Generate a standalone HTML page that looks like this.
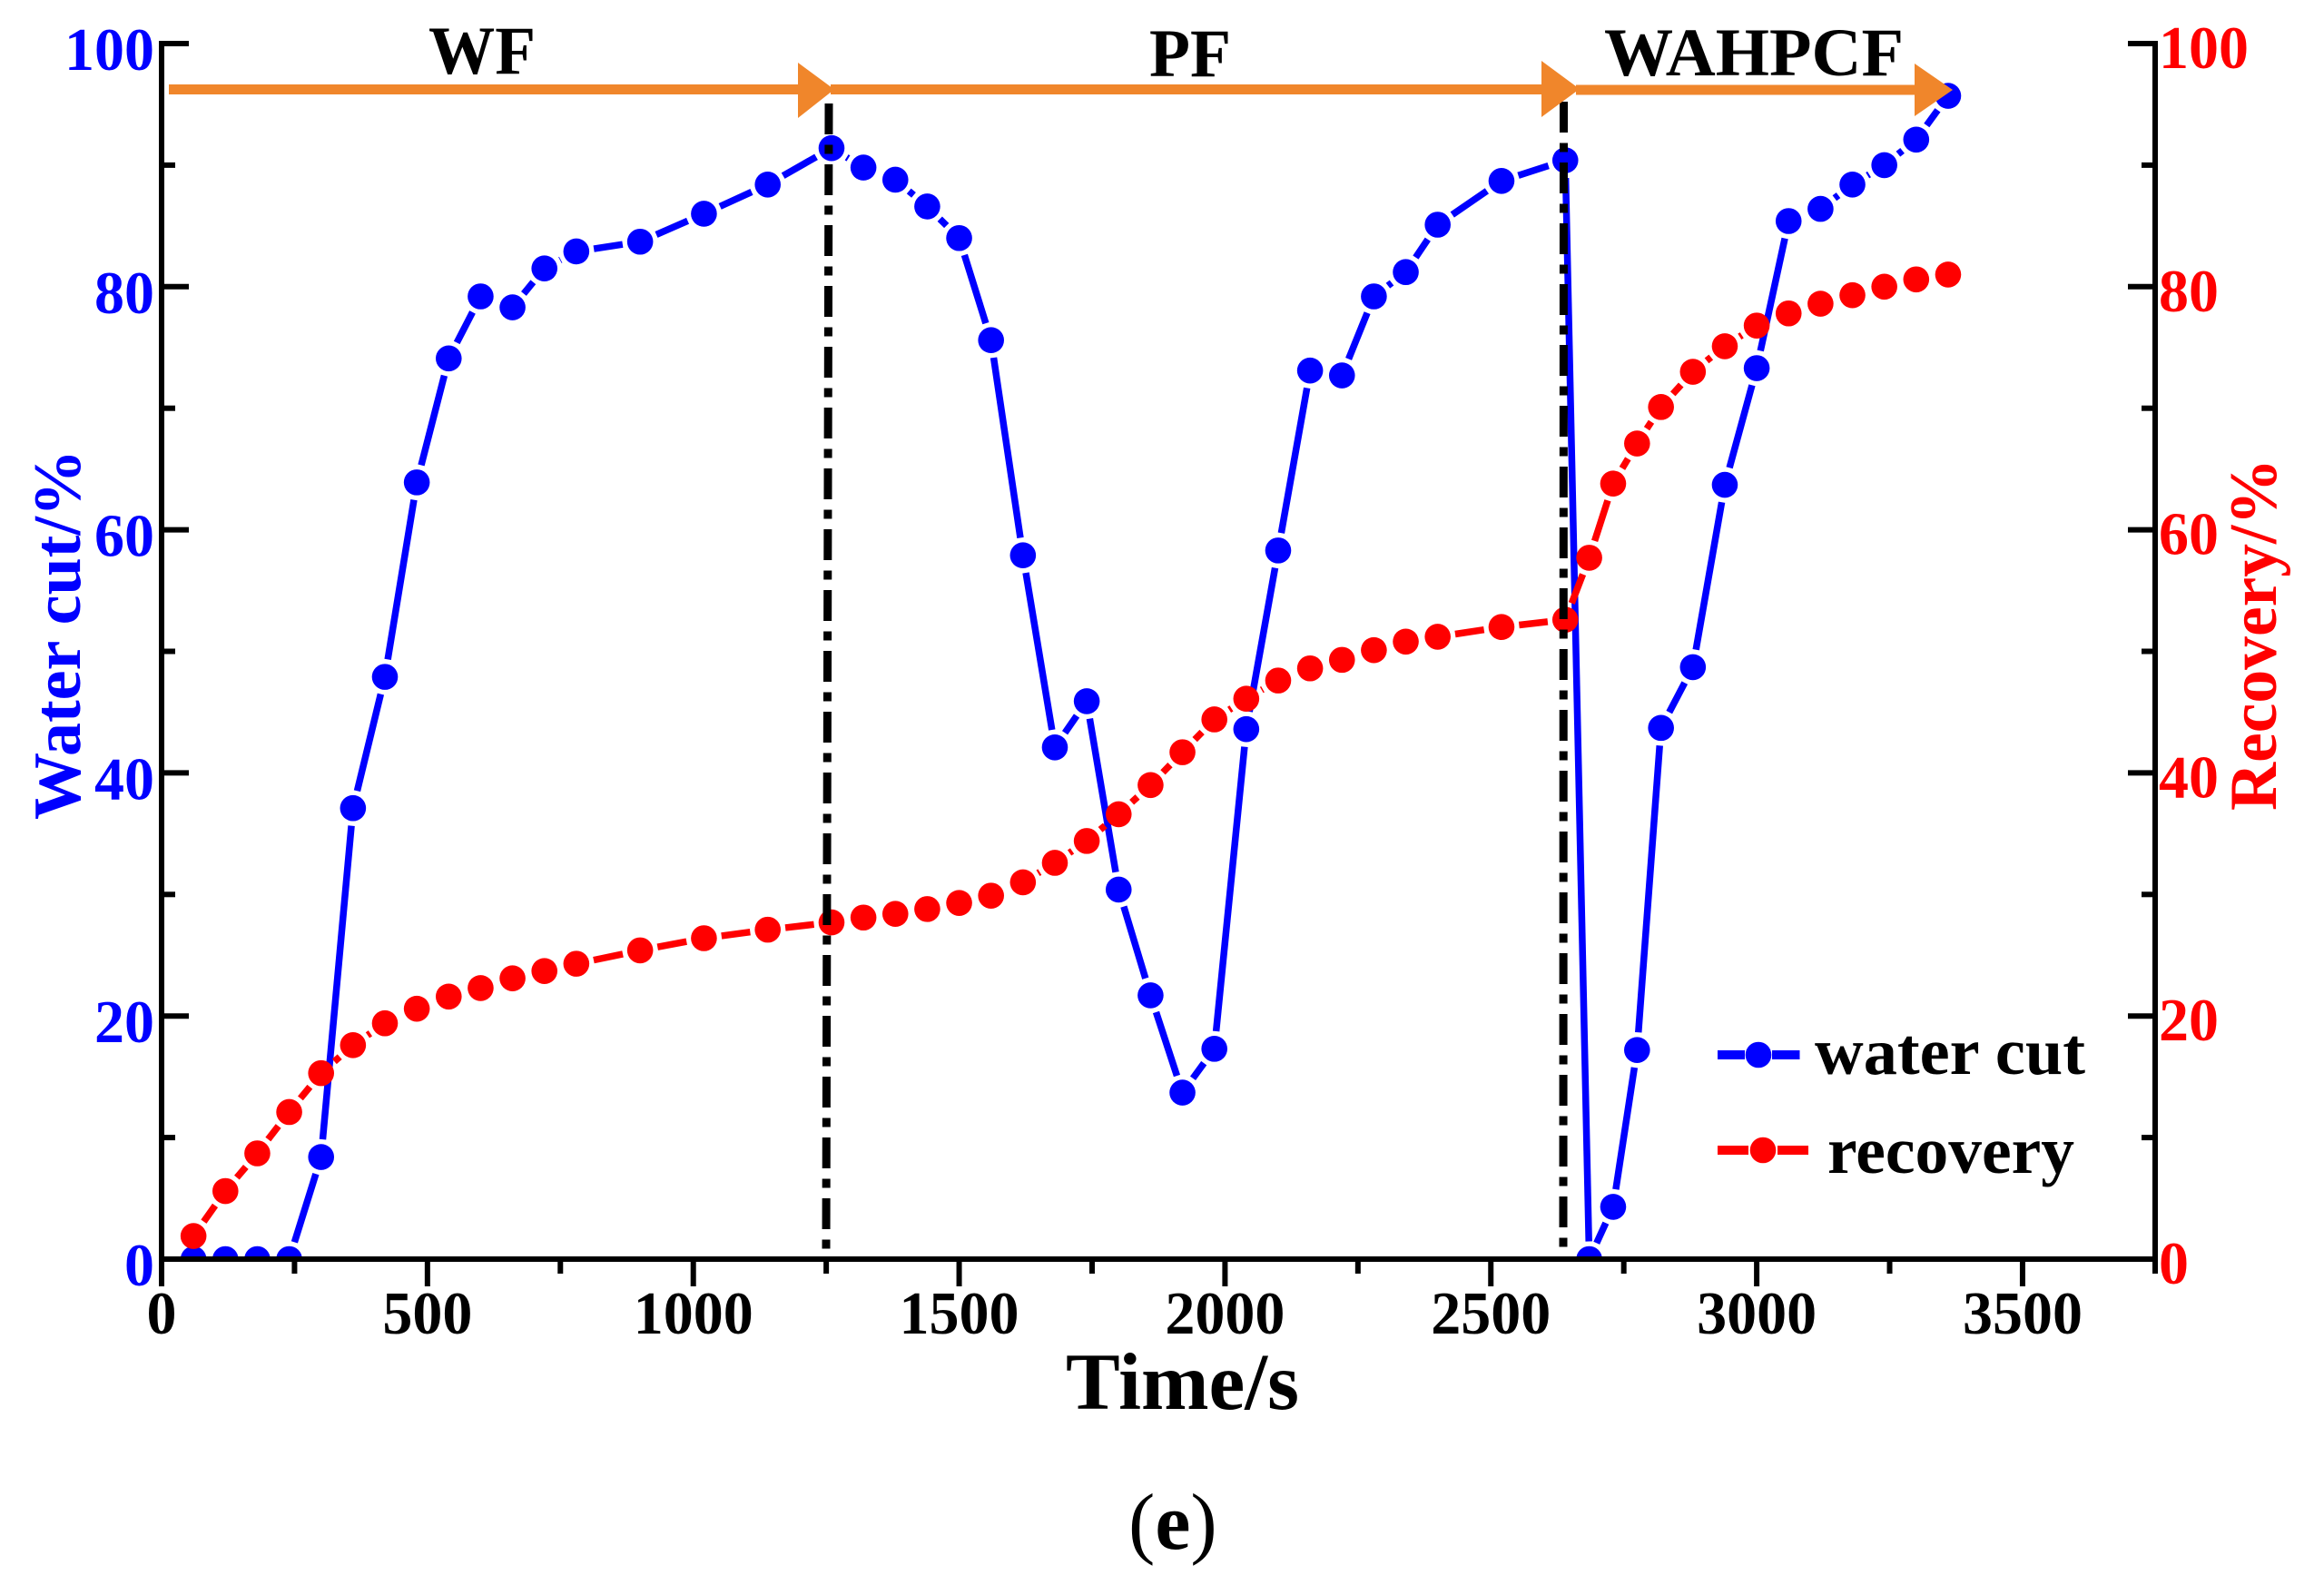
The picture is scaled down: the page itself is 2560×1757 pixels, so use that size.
<!DOCTYPE html>
<html>
<head>
<meta charset="utf-8">
<title>Water cut and recovery versus time</title>
<style>
html,body{margin:0;padding:0;background:#fff;}
svg{display:block;}
text{font-family:"Liberation Serif",serif;}
</style>
</head>
<body>
<svg id="chart" xmlns="http://www.w3.org/2000/svg" width="2560" height="1757" viewBox="0 0 2560 1757">
<rect width="2560" height="1757" fill="#fff"/>
<defs><clipPath id="plot-clip"><rect x="178" y="0" width="2196" height="1387"/></clipPath></defs>
<g id="series-layer" clip-path="url(#plot-clip)"></g>
<g id="axis-layer"></g>
<line x1="913" y1="114" x2="910" y2="1377" stroke="#000" stroke-width="9" stroke-dasharray="34 11.5 10 11.5"/>
<line x1="1722.5" y1="112" x2="1722" y2="1377" stroke="#000" stroke-width="9" stroke-dasharray="34 11.5 10 11.5"/>
<g fill="#f0862b">
<rect x="186" y="93" width="700" height="11"/><polygon points="879,69 919,98.5 879,130"/>
</g>
<g fill="#f0862b">
<rect x="915" y="93" width="795" height="11"/><polygon points="1698,67 1740,98 1698,129"/>
</g>
<g fill="#f0862b">
<rect x="1736" y="93.5" width="380" height="11"/><polygon points="2109,70 2151,99 2109,128"/>
</g>
<text x="472" y="81" font-size="75" font-weight="bold" textLength="118" lengthAdjust="spacingAndGlyphs">WF</text>
<text x="1266" y="84" font-size="75" font-weight="bold" textLength="90" lengthAdjust="spacingAndGlyphs">PF</text>
<text x="1767" y="83" font-size="75" font-weight="bold" textLength="330" lengthAdjust="spacingAndGlyphs">WAHPCF</text>
<text transform="translate(88,903) rotate(-90)" font-size="74" font-weight="bold" fill="#0000ff" textLength="408" lengthAdjust="spacingAndGlyphs">Water cut/%</text>
<text transform="translate(2507,893) rotate(-90)" font-size="74" font-weight="bold" fill="#ff0000" textLength="388" lengthAdjust="spacingAndGlyphs">Recovery/%</text>
<text x="1174" y="1552" font-size="89" font-weight="bold" textLength="257" lengthAdjust="spacingAndGlyphs">Time/s</text>
<text x="1243" y="1706" font-size="88">(<tspan font-weight="bold">e</tspan>)</text>
<g>
<g>
<rect x="1892" y="1157" width="30" height="10" fill="#0000ff"/><rect x="1952" y="1157" width="30.5" height="10" fill="#0000ff"/><circle cx="1937" cy="1162" r="14.3" fill="#0000ff"/>
<text x="1999" y="1183" font-size="73" font-weight="bold" textLength="298" lengthAdjust="spacingAndGlyphs">water cut</text>
</g>
<g>
<rect x="1892" y="1262" width="34" height="10" fill="#ff0000"/><rect x="1958" y="1262" width="34" height="10" fill="#ff0000"/><circle cx="1942" cy="1267" r="14.3" fill="#ff0000"/>
<text x="2013" y="1292" font-size="73" font-weight="bold" textLength="272" lengthAdjust="spacingAndGlyphs">recovery</text>
</g>
</g>
</svg>
<script>
var timeValues = [60,120,180,240,300,360,420,480,540,600,660,720,780,900,1020,1140,1260,1320,1380,1440,1500,1560,1620,1680,1740,1800,1860,1920,1980,2040,2100,2160,2220,2280,2340,2400,2520,2640,2685,2730,2775,2820,2880,2940,3000,3060,3120,3180,3240,3300,3360];
var waterCutValues = [0,0,0,0,8.4,37.1,47.9,63.9,74.1,79.2,78.3,81.5,82.9,83.7,86,88.4,91.4,89.8,88.8,86.6,84,75.6,57.9,42.1,45.9,30.4,21.7,13.7,17.3,43.6,58.3,73.1,72.7,79.2,81.2,85.1,88.7,90.4,0,4.3,17.2,43.7,48.7,63.7,73.3,85.4,86.4,88.4,90,92.1,95.7];
var recoveryValues = [1.9,5.6,8.7,12.1,15.3,17.6,19.4,20.6,21.6,22.3,23.1,23.7,24.3,25.4,26.4,27.1,27.7,28.1,28.4,28.8,29.3,29.9,31,32.6,34.4,36.6,39,41.7,44.4,46.1,47.6,48.6,49.3,50.1,50.8,51.2,52,52.6,57.7,63.8,67.1,70.1,73,75.1,76.8,77.8,78.6,79.3,80,80.6,81];
var xMajorTicks = [0,500,1000,1500,2000,2500,3000,3500];
var xMinorTicks = [250,750,1250,1750,2250,2750,3250];
var yMajorTicks = [0,20,40,60,80,100];
var yMinorTicks = [10,30,50,70,90];

var NS = 'http://www.w3.org/2000/svg';
function xPos(t){ return 178 + t * 0.5857; }
function yPos(v){ return 1387 - v * 13.39; }
function make(tag, attrs, parent){
  var el = document.createElementNS(NS, tag);
  for (var k in attrs) el.setAttribute(k, attrs[k]);
  parent.appendChild(el);
  return el;
}
var axisLayer = document.getElementById('axis-layer');
var seriesLayer = document.getElementById('series-layer');

function drawSeries(name, values, color){
  var group = make('g', {}, seriesLayer);
  
  
  var trim = 19.5;
  for (var i = 0; i < values.length - 1; i++){
    var x1 = xPos(timeValues[i]), y1 = yPos(values[i]);
    var x2 = xPos(timeValues[i+1]), y2 = yPos(values[i+1]);
    var len = Math.sqrt((x2-x1)*(x2-x1) + (y2-y1)*(y2-y1));
    if (len <= trim * 2) continue;
    var ux = (x2-x1)/len, uy = (y2-y1)/len;
    var seg = make('line', {x1:x1+ux*trim, y1:y1+uy*trim, x2:x2-ux*trim, y2:y2-uy*trim, stroke:color, 'stroke-width':7.5}, group);
    
    
  }
  for (var j = 0; j < values.length; j++){
    var dot = make('circle', {cx:xPos(timeValues[j]), cy:yPos(values[j]), r:14.3, fill:color}, group);
    
    
  }
}
drawSeries('water-cut', waterCutValues, '#0000ff');
drawSeries('recovery', recoveryValues, '#ff0000');

var leftSpine = make('line', {x1:178, y1:45, x2:178, y2:1417, stroke:'#000', 'stroke-width':6}, axisLayer);


var rightSpine = make('line', {x1:2374, y1:45, x2:2374, y2:1403, stroke:'#000', 'stroke-width':6}, axisLayer);


var bottomSpine = make('line', {x1:175, y1:1387, x2:2377, y2:1387, stroke:'#000', 'stroke-width':6}, axisLayer);



function tick(x1, y1, x2, y2, w, name){
  var t = make('line', {x1:x1, y1:y1, x2:x2, y2:y2, stroke:'#000', 'stroke-width':w}, axisLayer);
  
  
}
function label(str, x, y, anchor, color, name){
  var t = make('text', {x:x, y:y, 'text-anchor':anchor, 'font-size':67, 'font-weight':'bold', fill:color, textLength:str.length * 33, lengthAdjust:'spacingAndGlyphs'}, axisLayer);
  t.textContent = str;
  
  
}
xMajorTicks.forEach(function(v){
  if (v > 0) tick(xPos(v), 1387, xPos(v), 1417, 6, 'x-major-tick');
  label(String(v), xPos(v), 1469, 'middle', '#000', 'x-tick-label');
});
xMinorTicks.forEach(function(v){
  tick(xPos(v), 1387, xPos(v), 1403, 6, 'x-minor-tick');
});
yMajorTicks.forEach(function(v){
  tick(178, yPos(v), 208, yPos(v), 6, 'left-major-tick');
  tick(2344, yPos(v), 2374, yPos(v), 6, 'right-major-tick');
  label(String(v), 170, yPos(v) + 29, 'end', '#0000ff', 'left-tick-label');
  label(String(v), 2378, yPos(v) + 27, 'start', '#ff0000', 'right-tick-label');
});
yMinorTicks.forEach(function(v){
  tick(178, yPos(v), 193, yPos(v), 6, 'left-minor-tick');
  tick(2359, yPos(v), 2374, yPos(v), 6, 'right-minor-tick');
});
</script>
</body>
</html>
